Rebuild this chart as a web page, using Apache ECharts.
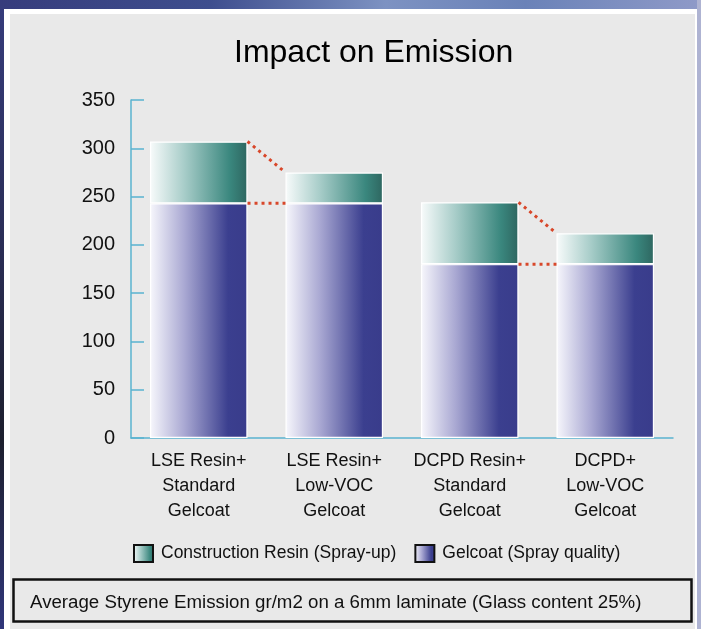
<!DOCTYPE html>
<html>
<head>
<meta charset="utf-8">
<script src="https://cdn.jsdelivr.net/npm/echarts@6/dist/echarts.min.js"></script>
<style>
  html, body { margin: 0; padding: 0; }
  #chart { width: 701px; height: 629px; }
</style>
</head>
<body>
<div id="chart"></div>
<script>
// ---- data ----
const categories = [
  'LSE Resin+\nStandard\nGelcoat',
  'LSE Resin+\nLow-VOC\nGelcoat',
  'DCPD Resin+\nStandard\nGelcoat',
  'DCPD+\nLow-VOC\nGelcoat'
];
const gelcoat = [243, 243, 180, 180];          // Gelcoat (Spray quality)
const resin = [64, 32, 64, 32];                 // Construction Resin (Spray-up)
const yTicks = { min: 0, max: 350, interval: 50 };
const connectorPairs = [[0, 1], [2, 3]];        // bars joined by dotted lines
const titleText = 'Impact on Emission';
const footnoteText = 'Average Styrene Emission gr/m2 on a 6mm laminate (Glass content 25%)';
const seriesNames = ['Construction Resin (Spray-up)', 'Gelcoat (Spray quality)'];

// ---- styles ----
const FONT = '"Liberation Sans", Arial, sans-serif';
const axisColor = '#5ab3cf';
const barFrac = 0.72;
const half = barFrac / 2;

const gelGrad = new echarts.graphic.LinearGradient(0, 0, 1, 0, [
  { offset: 0, color: '#f7f7fc' },
  { offset: 0.35, color: '#aaa9d3' },
  { offset: 0.8, color: '#3b3f8f' },
  { offset: 1, color: '#393c8b' }
]);
const resinGrad = new echarts.graphic.LinearGradient(0, 0, 1, 0, [
  { offset: 0, color: '#f8fbfb' },
  { offset: 0.35, color: '#a8cdc9' },
  { offset: 0.82, color: '#3a877e' },
  { offset: 1, color: '#2e6660' }
]);

const totals = gelcoat.map((g, i) => g + resin[i]);
const connectorStyle = { color: '#d8472a', width: 3, type: [3, 4] };
const connectorSeries = [];
connectorPairs.forEach(([a, b]) => {
  const x0 = a + 0.5 + half, x1 = b + 0.5 - half;
  connectorSeries.push({
    type: 'line', xAxisIndex: 1, symbol: 'none', silent: true, z: 5,
    data: [[x0, totals[a]], [x1, totals[b]]], lineStyle: connectorStyle
  });
  connectorSeries.push({
    type: 'line', xAxisIndex: 1, symbol: 'none', silent: true, z: 5,
    data: [[x0, gelcoat[a]], [x1, gelcoat[b]]], lineStyle: connectorStyle
  });
});

const chart = echarts.init(document.getElementById('chart'));
chart.setOption({
  animation: false,
  backgroundColor: 'transparent',
  graphic: [
    { type: 'rect', z: -10, shape: { x: 0, y: 0, width: 701, height: 629 },
      style: { fill: new echarts.graphic.LinearGradient(0, 0, 0, 1, [
        { offset: 0, color: '#363c7c' },
        { offset: 0.4, color: '#2a2d55' },
        { offset: 0.7, color: '#1d1f2e' },
        { offset: 1, color: '#30367a' }
      ]) } },
    { type: 'rect', z: -9, shape: { x: 0, y: 0, width: 701, height: 10 },
      style: { fill: new echarts.graphic.LinearGradient(0, 0, 1, 0, [
        { offset: 0, color: '#363c7c' },
        { offset: 0.3, color: '#3e4e8e' },
        { offset: 0.55, color: '#7d92c2' },
        { offset: 0.75, color: '#6a82b8' },
        { offset: 1, color: '#8f9ac8' }
      ]) } },
    { type: 'rect', z: -9, shape: { x: 697, y: 0, width: 4, height: 629 },
      style: { fill: '#aeb3d2' } },
    { type: 'rect', z: -8, shape: { x: 4, y: 9, width: 693, height: 620 },
      style: { fill: '#ffffff' } },
    { type: 'rect', z: -7, shape: { x: 10, y: 14, width: 685, height: 615 },
      style: { fill: '#e9e9e9' } },
    { type: 'rect', z: 1, shape: { x: 13.5, y: 579.5, width: 678, height: 42 },
      style: { fill: 'none', stroke: '#111', lineWidth: 2.5 } },
    { type: 'text', z: 2, left: 30, top: 593,
      style: { text: footnoteText, font: '18.7px ' + FONT, fill: '#111' } }
  ],
  title: {
    text: titleText, left: 229, top: 32,
    textStyle: { fontSize: 32, fontWeight: 'normal', fontFamily: FONT, color: '#000' }
  },
  legend: {
    data: seriesNames, left: 128, top: 539, icon: 'rect',
    itemWidth: 19, itemHeight: 17, itemGap: 18,
    itemStyle: { borderColor: '#111', borderWidth: 2 },
    textStyle: { fontSize: 17.5, fontFamily: FONT, color: '#111', padding: [0, 0, 0, 3] }
  },
  grid: { left: 131, right: 28, top: 100, bottom: 191, containLabel: false },
  xAxis: [
    {
      type: 'category', data: categories,
      axisLine: { lineStyle: { color: axisColor, width: 1.5 } },
      axisTick: { inside: true, length: 10, lineStyle: { color: axisColor, width: 1.5 } },
      axisLabel: { fontSize: 18, lineHeight: 25, margin: 11, color: '#111', fontFamily: FONT, interval: 0 }
    },
    { type: 'value', min: 0, max: categories.length, show: false }
  ],
  yAxis: {
    type: 'value', min: yTicks.min, max: yTicks.max, interval: yTicks.interval,
    axisLine: { show: true, lineStyle: { color: axisColor, width: 1.5 } },
    axisTick: { show: true, inside: true, length: 13, lineStyle: { color: axisColor, width: 1.5 } },
    splitLine: { show: false },
    axisLabel: { fontSize: 20, margin: 16, color: '#111', fontFamily: FONT }
  },
  series: [
    {
      name: seriesNames[1], type: 'bar', stack: 'total', barWidth: (barFrac * 100) + '%',
      data: gelcoat,
      itemStyle: { color: gelGrad, borderColor: '#ffffff', borderWidth: 1.2 }
    },
    {
      name: seriesNames[0], type: 'bar', stack: 'total', barWidth: (barFrac * 100) + '%',
      data: resin,
      itemStyle: { color: resinGrad, borderColor: '#ffffff', borderWidth: 1.2 }
    }
  ].concat(connectorSeries)
});
</script>
</body>
</html>
